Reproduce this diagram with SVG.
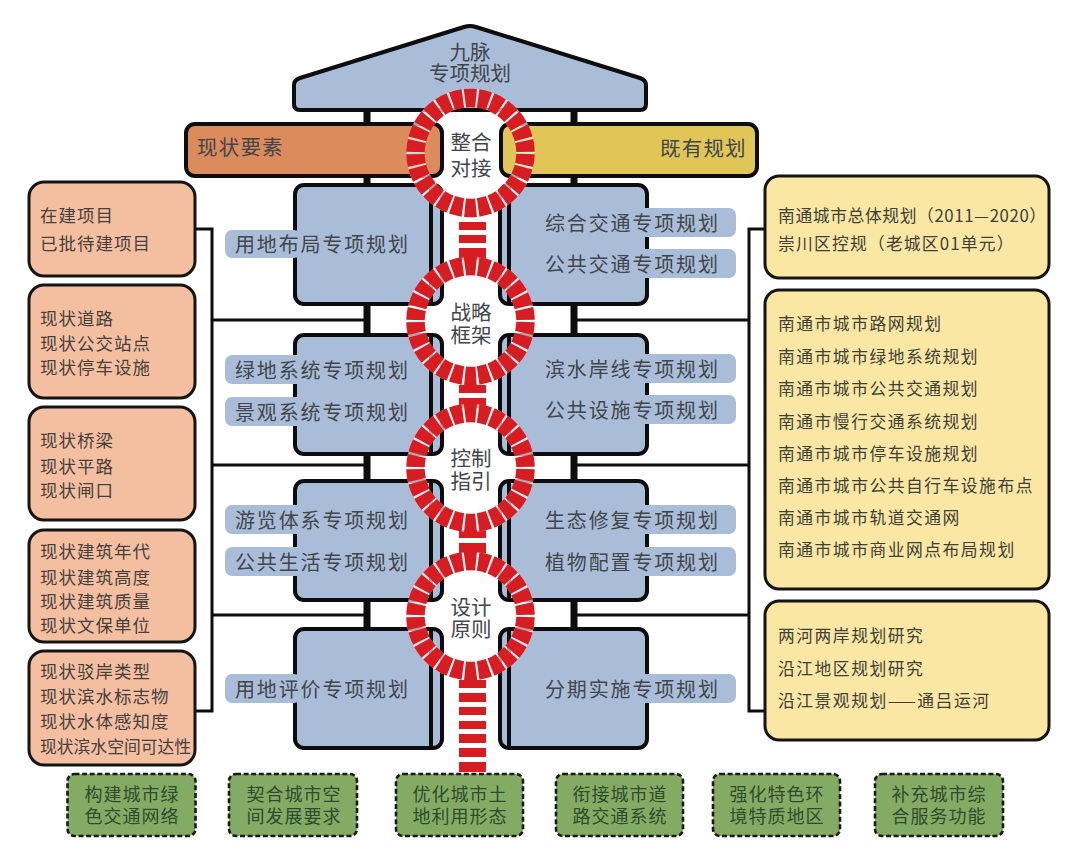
<svg xmlns="http://www.w3.org/2000/svg" width="1080" height="863" viewBox="0 0 1080 863">
<defs>
<style>
text{font-family:"Noto Sans CJK SC","Noto Sans",sans-serif;fill:#42464b}
.b{fill:#a9bdd8;stroke:#0d0d0d;stroke-width:4}
.blk{fill:none;stroke:#0d0d0d;stroke-width:4}
.p{fill:#a9bdd8}
.pt{font-size:20px;letter-spacing:1.85px}
.c{font-size:20.5px;text-anchor:middle}
.l{fill:#f4bfa1;stroke:#141414;stroke-width:3}
.lt{font-size:17.5px;letter-spacing:1px;fill:#463f3b}
.r{fill:#fae7a4;stroke:#141414;stroke-width:3}
.rt{font-size:16.8px;letter-spacing:1.5px;fill:#403f38}
.g{fill:#83ab63;stroke:#1a1a1a;stroke-width:2.6;stroke-dasharray:5 2.6}
.gt{font-size:18px;letter-spacing:1px;text-anchor:middle;fill:#2f4b2e}
.pillar{stroke:#0d0d0d;stroke-width:7;fill:none}
.line{stroke:#0d0d0d;stroke-width:3;fill:none}
.ringbg{fill:none;stroke:#fff;stroke-opacity:.65;stroke-width:18}
.ring{fill:none;stroke:#d81d22;stroke-width:18.5;stroke-dasharray:11.6 2.246}
.st{fill:#d81d22}
</style>
</defs>
<rect width="1080" height="863" fill="#fff"/>
<g id="connectors">
<path class="pillar" d="M367 108V128M367 174V188M367 302V338M367 452V484M367 598V632M574 108V128M574 174V188M574 302V338M574 452V484M574 598V632"/>
<path class="line" d="M195 229H212V711H195M212 320H367M212 465H367M212 615H367M764 229H749V711H764M749 320H574M749 465H574M749 615H574"/>
</g>
<g id="roof"><path class="b" d="M300 78L464 27Q470 25 476 27L640 78Q646 80 646 85V104Q646 110 640 110H300Q294 110 294 104V85Q294 80 300 78Z"/><text class="c" x="470" y="60">九脉</text><text class="c" x="470" y="81">专项规划</text></g>
<g id="bar-left"><rect x="186" y="124" width="256" height="52" rx="9" fill="#dc8b5c" stroke="#0d0d0d" stroke-width="4"/><text x="197" y="155" font-size="20.5" letter-spacing="1.2">现状要素</text></g>
<g id="bar-right"><rect x="501" y="124" width="256" height="52" rx="9" fill="#dfc657" stroke="#0d0d0d" stroke-width="4"/><text x="660" y="156" font-size="20.5" letter-spacing="1.2">既有规划</text></g>
<g id="block-l1"><rect class="b" x="295" y="185" width="147" height="119" rx="9"/><path class="blk" d="M431 186V303"/><rect class="p" x="225" y="230" width="76" height="28" rx="7"/><text class="pt" x="235" y="252">用地布局专项规划</text></g>
<g id="block-r1"><rect class="b" x="500" y="185" width="147" height="119" rx="9"/><path class="blk" d="M509 186V303"/><rect class="p" x="530" y="208" width="206" height="29" rx="7"/><rect class="p" x="530" y="249" width="206" height="29" rx="7"/><text class="pt" x="545" y="231">综合交通专项规划</text><text class="pt" x="545" y="272">公共交通专项规划</text></g>
<g id="block-l2"><rect class="b" x="295" y="335" width="147" height="119" rx="9"/><path class="blk" d="M431 336V453"/><rect class="p" x="225" y="355" width="190" height="29" rx="7"/><rect class="p" x="225" y="397" width="190" height="29" rx="7"/><text class="pt" x="235" y="378">绿地系统专项规划</text><text class="pt" x="235" y="420">景观系统专项规划</text></g>
<g id="block-r2"><rect class="b" x="500" y="335" width="147" height="119" rx="9"/><path class="blk" d="M509 336V453"/><rect class="p" x="530" y="354" width="206" height="29" rx="7"/><rect class="p" x="530" y="395" width="206" height="29" rx="7"/><text class="pt" x="545" y="377">滨水岸线专项规划</text><text class="pt" x="545" y="418">公共设施专项规划</text></g>
<g id="block-l3"><rect class="b" x="295" y="481" width="147" height="119" rx="9"/><path class="blk" d="M431 482V599"/><rect class="p" x="225" y="505" width="190" height="29" rx="7"/><rect class="p" x="225" y="547" width="190" height="29" rx="7"/><text class="pt" x="235" y="528">游览体系专项规划</text><text class="pt" x="235" y="570">公共生活专项规划</text></g>
<g id="block-r3"><rect class="b" x="500" y="481" width="147" height="119" rx="9"/><path class="blk" d="M509 482V599"/><rect class="p" x="530" y="505" width="206" height="29" rx="7"/><rect class="p" x="530" y="547" width="206" height="29" rx="7"/><text class="pt" x="545" y="528">生态修复专项规划</text><text class="pt" x="545" y="570">植物配置专项规划</text></g>
<g id="block-l4"><rect class="b" x="295" y="629" width="147" height="119" rx="9"/><path class="blk" d="M431 630V747"/><rect class="p" x="225" y="674" width="76" height="29" rx="7"/><text class="pt" x="235" y="697">用地评价专项规划</text></g>
<g id="block-r4"><rect class="b" x="500" y="629" width="147" height="119" rx="9"/><path class="blk" d="M509 630V747"/><rect class="p" x="530" y="674" width="206" height="29" rx="7"/><text class="pt" x="545" y="697">分期实施专项规划</text></g>
<g id="left-1"><rect class="l" x="29" y="182" width="166" height="94" rx="15"/><text class="lt" x="40" y="222">在建项目</text><text class="lt" x="40" y="250">已批待建项目</text></g>
<g id="left-2"><rect class="l" x="29" y="285" width="166" height="113" rx="15"/><text class="lt" x="40" y="325">现状道路</text><text class="lt" x="40" y="350">现状公交站点</text><text class="lt" x="40" y="374">现状停车设施</text></g>
<g id="left-3"><rect class="l" x="29" y="407" width="166" height="113" rx="15"/><text class="lt" x="40" y="447">现状桥梁</text><text class="lt" x="40" y="473">现状平路</text><text class="lt" x="40" y="497">现状闸口</text></g>
<g id="left-4"><rect class="l" x="29" y="530" width="166" height="112" rx="15"/><text class="lt" x="40" y="558">现状建筑年代</text><text class="lt" x="40" y="584">现状建筑高度</text><text class="lt" x="40" y="608">现状建筑质量</text><text class="lt" x="40" y="632">现状文保单位</text></g>
<g id="left-5"><rect class="l" x="29" y="651" width="166" height="114" rx="15"/><text class="lt" x="40" y="678">现状驳岸类型</text><text class="lt" x="40" y="703">现状滨水标志物</text><text class="lt" x="40" y="728">现状水体感知度</text><text class="lt" x="40" y="753" style="letter-spacing:0;font-size:16.8px">现状滨水空间可达性</text></g>
<g id="right-1"><rect class="r" x="765" y="176" width="284" height="102" rx="14"/><text class="rt" x="778" y="222" style="letter-spacing:.6px">南通城市总体规划（2011—2020）</text><text class="rt" x="778" y="250" style="letter-spacing:1.2px">崇川区控规（老城区01单元）</text></g>
<g id="right-2"><rect class="r" x="765" y="290" width="284" height="299" rx="14"/><text class="rt" x="778" y="330">南通市城市路网规划</text><text class="rt" x="778" y="363">南通市城市绿地系统规划</text><text class="rt" x="778" y="395">南通市城市公共交通规划</text><text class="rt" x="778" y="428">南通市慢行交通系统规划</text><text class="rt" x="778" y="460">南通市城市停车设施规划</text><text class="rt" x="778" y="492">南通市城市公共自行车设施布点</text><text class="rt" x="778" y="524">南通市城市轨道交通网</text><text class="rt" x="778" y="556">南通市城市商业网点布局规划</text></g>
<g id="right-3"><rect class="r" x="765" y="601" width="284" height="139" rx="14"/><text class="rt" x="778" y="642">两河两岸规划研究</text><text class="rt" x="778" y="675">沿江地区规划研究</text><text class="rt" x="778" y="707">沿江景观规划——通吕运河</text></g>
<g id="stripes"><path class="st" d="M459 222h27v8h-27zM459 235h27v8h-27zM459 248h27v12h-27zM459 385h27v8h-27zM459 398h27v10h-27zM459 530h27v8h-27zM459 543h27v10h-27zM459 680h27v8h-27zM459 693h27v9h-27zM459 707h27v8h-27zM459 721h27v8h-27zM459 734h27v9h-27zM459 748h27v9h-27zM459 762h27v10h-27z"/></g>
<g id="ring-1"><circle class="ringbg" cx="470.5" cy="153" r="55"/><circle class="ring" cx="470.5" cy="153" r="55" pathLength="360" transform="rotate(-95.8 470.5 153)"/><text class="c" x="471" y="150">整合</text><text class="c" x="471" y="176">对接</text></g>
<g id="ring-2"><circle class="ringbg" cx="470.5" cy="321" r="55"/><circle class="ring" cx="470.5" cy="321" r="55" pathLength="360" transform="rotate(-95.8 470.5 321)"/><text class="c" x="471" y="320">战略</text><text class="c" x="471" y="343">框架</text></g>
<g id="ring-3"><circle class="ringbg" cx="470.5" cy="468" r="55"/><circle class="ring" cx="470.5" cy="468" r="55" pathLength="360" transform="rotate(-95.8 470.5 468)"/><text class="c" x="471" y="466">控制</text><text class="c" x="471" y="489">指引</text></g>
<g id="ring-4"><circle class="ringbg" cx="470.5" cy="616" r="55"/><circle class="ring" cx="470.5" cy="616" r="55" pathLength="360" transform="rotate(-95.8 470.5 616)"/><text class="c" x="471" y="615">设计</text><text class="c" x="471" y="637">原则</text></g>
<g id="green-1"><rect class="g" x="67.500" y="774" width="128" height="62" rx="7"/><text class="gt" x="132" y="801">构建城市绿</text><text class="gt" x="132" y="823">色交通网络</text></g>
<g id="green-2"><rect class="g" x="229" y="774" width="128" height="62" rx="7"/><text class="gt" x="294" y="801">契合城市空</text><text class="gt" x="294" y="823">间发展要求</text></g>
<g id="green-3"><rect class="g" x="396" y="774" width="127" height="62" rx="7"/><text class="gt" x="460" y="801">优化城市土</text><text class="gt" x="460" y="823">地利用形态</text></g>
<g id="green-4"><rect class="g" x="556" y="774" width="127" height="62" rx="7"/><text class="gt" x="620" y="801">衔接城市道</text><text class="gt" x="620" y="823">路交通系统</text></g>
<g id="green-5"><rect class="g" x="713" y="774" width="127" height="62" rx="7"/><text class="gt" x="777" y="801">强化特色环</text><text class="gt" x="777" y="823">境特质地区</text></g>
<g id="green-6"><rect class="g" x="875" y="774" width="128" height="62" rx="7"/><text class="gt" x="939" y="801">补充城市综</text><text class="gt" x="939" y="823">合服务功能</text></g>
</svg>
